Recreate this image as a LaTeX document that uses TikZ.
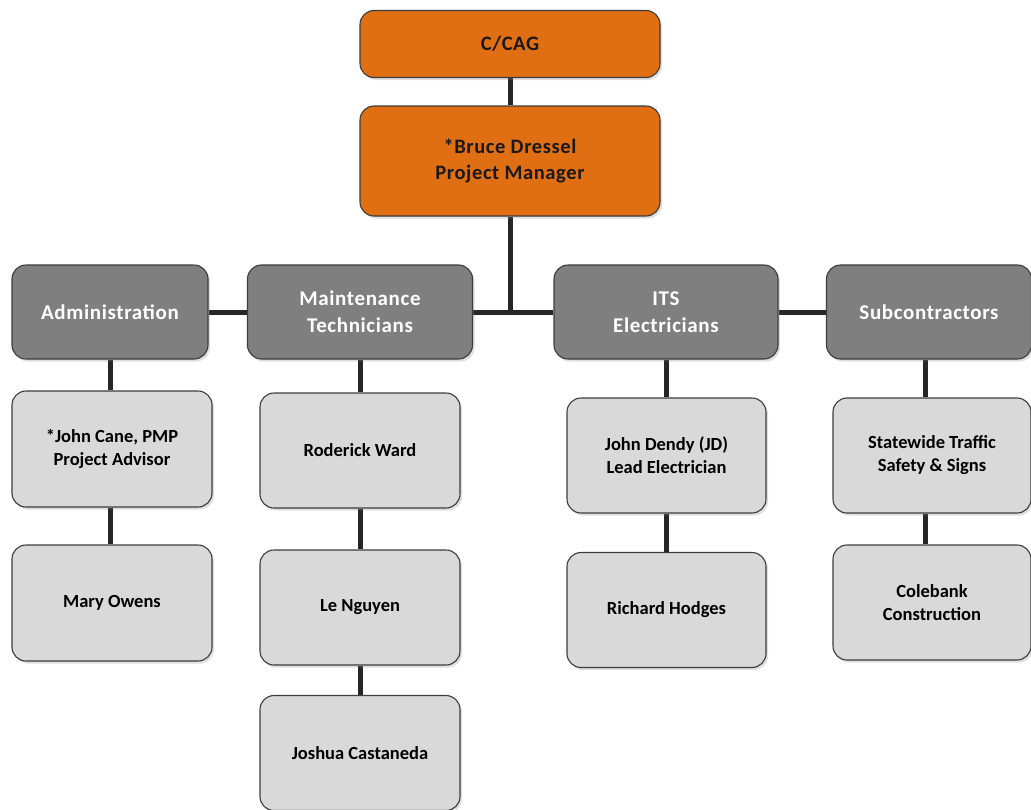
\documentclass[tikz,border=0pt]{standalone}
\usepackage{fontspec}
\setmainfont{Carlito}
\usetikzlibrary{shadows,backgrounds}
\definecolor{orangebox}{RGB}{224,110,18}
\definecolor{headbox}{RGB}{127,127,127}
\definecolor{namebox}{RGB}{217,217,217}
\definecolor{edgecol}{RGB}{60,60,60}
\tikzset{
  box/.style={rectangle, rounded corners=14pt, draw=edgecol, line width=1.1pt,
    align=center, inner sep=0pt,
    drop shadow={opacity=0.25, shadow xshift=2pt, shadow yshift=-2.5pt}},
  topbox/.style={box, fill=orangebox, text=black!90,
    font=\fontsize{20.5}{26}\selectfont\bfseries\addfontfeature{LetterSpace=3}},
  headbox/.style={box, fill=headbox, text=white,
    font=\fontsize{21}{27}\selectfont\bfseries\addfontfeature{LetterSpace=3}},
  namebox/.style={box, fill=namebox, text=black,
    font=\fontsize{18.5}{23}\selectfont\bfseries},
  conn/.style={line width=5pt, draw=black!85},
}
\begin{document}
\begin{tikzpicture}[x=1pt,y=-1pt]
\useasboundingbox (0,0) rectangle (1031,809);
\clip (0,0) rectangle (1031,809);

% top
\node[topbox, minimum width=300pt, minimum height=67pt] (cag) at (510,44) {C/CAG};
\node[topbox, minimum width=300pt, minimum height=110pt] (pm) at (510,161) {*Bruce Dressel\\Project Manager};

% headers
\node[headbox, minimum width=196pt, minimum height=94pt] (adm) at (110,312) {Administration};
\node[headbox, minimum width=225pt, minimum height=94pt] (mnt) at (360,312) {Maintenance\\Technicians};
\node[headbox, minimum width=224pt, minimum height=94pt] (its) at (666,312) {ITS\\Electricians};
\node[headbox, minimum width=205pt, minimum height=94pt] (sub) at (929,312) {Subcontractors};

% admin column
\node[namebox, minimum width=200pt, minimum height=116pt] (cane) at (112,449) {*John Cane, PMP\\Project Advisor};
\node[namebox, minimum width=200pt, minimum height=116pt] (mary) at (112,603) {Mary Owens};

% maintenance column
\node[namebox, minimum width=200pt, minimum height=115pt] (ward) at (360,450.5) {Roderick Ward};
\node[namebox, minimum width=200pt, minimum height=115pt] (le) at (360,607.5) {Le Nguyen};
\node[namebox, minimum width=200pt, minimum height=115pt] (josh) at (360,753) {Joshua Castaneda};

% ITS column
\node[namebox, minimum width=199pt, minimum height=115pt] (jd) at (666.5,455.5) {John Dendy (JD)\\Lead Electrician};
\node[namebox, minimum width=199pt, minimum height=115pt] (rh) at (666.5,610) {Richard Hodges};

% subcontractor column
\node[namebox, minimum width=198pt, minimum height=115pt] (stw) at (932,455.5) {Statewide Traffic\\Safety \& Signs};
\node[namebox, minimum width=198pt, minimum height=115pt] (cole) at (932,602.5) {Colebank\\Construction};

\begin{scope}[on background layer]
  \fill[white] (0,0) rectangle (1031,809);
  \draw[conn] (cag.south) -- (pm.north);
  \draw[conn] (pm.south) -- (pm.south |- mnt.east);
  \draw[conn] (adm.east) -- (mnt.west);
  \draw[conn] (mnt.east) -- (its.west);
  \draw[conn] (its.east) -- (sub.west);
  \draw[conn] (adm.south) -- (adm.south |- cane.north);
  \draw[conn] (adm.south |- cane.south) -- (adm.south |- mary.north);
  \draw[conn] (mnt.south) -- (ward.north);
  \draw[conn] (ward.south) -- (le.north);
  \draw[conn] (le.south) -- (josh.north);
  \draw[conn] (its.south) -- (its.south |- jd.north);
  \draw[conn] (its.south |- jd.south) -- (its.south |- rh.north);
  \coordinate (subx) at (925,0);
  \draw[conn] (subx |- sub.south) -- (subx |- stw.north);
  \draw[conn] (subx |- stw.south) -- (subx |- cole.north);
\end{scope}
\end{tikzpicture}
\end{document}
